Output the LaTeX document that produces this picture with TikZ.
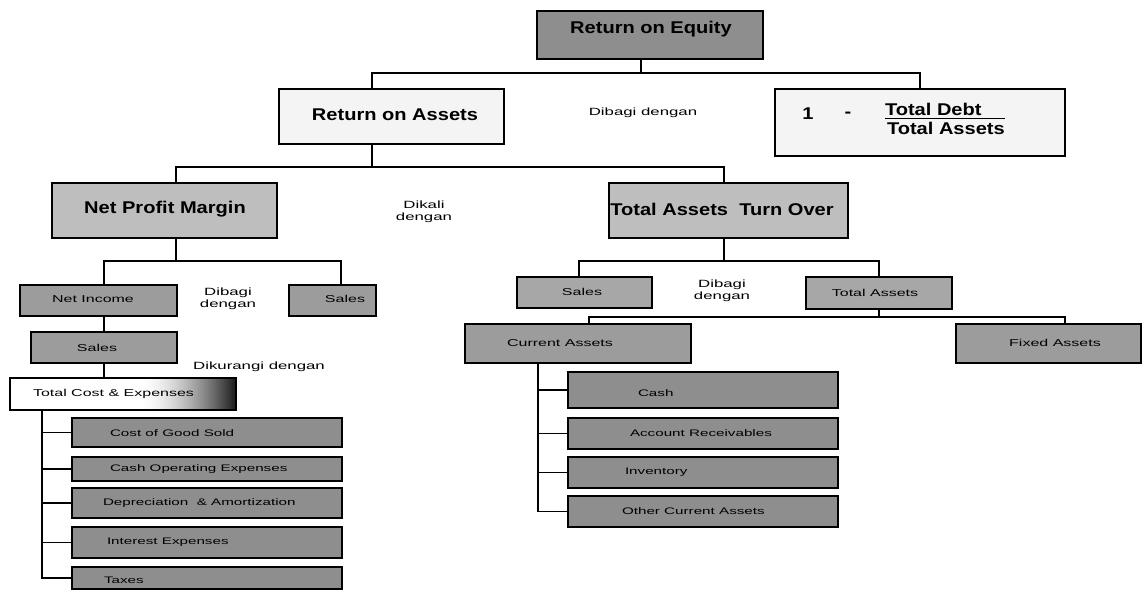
\documentclass[tikz,border=0pt]{standalone}
\usepackage{fontspec}
\setmainfont{Liberation Sans}
\usepackage{graphicx}
\newcommand\sx[1]{\scalebox{1.6}[1]{#1}}
\newcommand\bx[1]{\scalebox{1.18}[1]{#1}}
\newcommand\twol[2]{\sx{\begin{tabular}{@{}c@{}}#1\\[-1pt]#2\end{tabular}}}
\definecolor{roeC}{HTML}{8E8E8E}
\definecolor{paleC}{HTML}{F4F4F4}
\definecolor{midC}{HTML}{BEBEBE}
\definecolor{lvlA}{HTML}{9C9C9C}
\definecolor{lvlB}{HTML}{A7A7A7}
\definecolor{leafC}{HTML}{8E8E8E}
\tikzset{
  box/.style={draw, line width=1.5pt, inner sep=0pt, outer sep=0pt, anchor=center},
  conn/.style={line width=1.5pt},
  big/.style={inner sep=0pt, outer sep=0pt, font=\fontsize{17}{20}\selectfont\bfseries},
  lbl/.style={inner sep=0pt, outer sep=0pt, font=\fontsize{10}{12}\selectfont},
  leaflbl/.style={inner sep=0pt, outer sep=0pt, font=\fontsize{9.5}{11}\selectfont, anchor=west},
  note/.style={inner sep=0pt, outer sep=0pt, font=\fontsize{10.5}{12.5}\selectfont},
}
\begin{document}
\begin{tikzpicture}[x=1pt,y=-1pt]
\useasboundingbox (0,0) rectangle (1143,590);
% ---- boxes ----
\node[box, fill=roeC, minimum width=226pt, minimum height=48pt] (roe) at (650,35) {};
\node[box, fill=paleC, minimum width=225pt, minimum height=55pt] (roa) at (391.5,116.5) {};
\node[box, fill=paleC, minimum width=290pt, minimum height=67pt] (ratio) at (920,122.5) {};
\node[box, fill=midC, minimum width=225pt, minimum height=55pt] (npm) at (164.5,210.5) {};
\node[box, fill=midC, minimum width=239pt, minimum height=55pt] (tato) at (728.5,210.5) {};
\node[box, fill=lvlA, minimum width=157pt, minimum height=31pt] (ni) at (98.5,300.5) {};
\node[box, fill=lvlA, minimum width=87pt, minimum height=31pt] (salesL) at (332.5,300.5) {};
\node[box, fill=lvlA, minimum width=146pt, minimum height=31pt] (sales2) at (104,347.5) {};
\node[box, fill=white, minimum width=226pt, minimum height=32pt] (tce) at (123,394) {};
\foreach \i in {0,...,47} {
  \pgfmathsetmacro\t{88*(\i/47)^1.6}
  \fill[black!\t] (140+2*\i,378) rectangle (142.4+2*\i,410);
}
\draw[line width=1.5pt] (tce.north west) rectangle (tce.south east);
\node[box, fill=leafC, minimum width=270pt, minimum height=29pt] (c1) at (207,432.5) {};
\node[box, fill=leafC, minimum width=270pt, minimum height=24pt] (c2) at (207,469) {};
\node[box, fill=leafC, minimum width=270pt, minimum height=30pt] (c3) at (207,503) {};
\node[box, fill=leafC, minimum width=270pt, minimum height=31pt] (c4) at (207,542.5) {};
\node[box, fill=leafC, minimum width=270pt, minimum height=22pt] (c5) at (207,578) {};
\node[box, fill=lvlB, minimum width=135pt, minimum height=31pt] (salesR) at (584.5,292.5) {};
\node[box, fill=lvlB, minimum width=146pt, minimum height=32pt] (ta) at (879,293) {};
\node[box, fill=lvlA, minimum width=226pt, minimum height=39pt] (ca) at (578,343.5) {};
\node[box, fill=lvlA, minimum width=185pt, minimum height=39pt] (fa) at (1048.5,343.5) {};
\node[box, fill=leafC, minimum width=270pt, minimum height=36pt] (r1) at (703,390) {};
\node[box, fill=leafC, minimum width=270pt, minimum height=31pt] (r2) at (703,433.5) {};
\node[box, fill=leafC, minimum width=270pt, minimum height=31pt] (r3) at (703,472.5) {};
\node[box, fill=leafC, minimum width=270pt, minimum height=31pt] (r4) at (703,511.5) {};
% ---- texts ----
\node[big] (troe) at (651,29) {\bx{Return on Equity}};
\node[big] (troa) at (395,115) {\bx{Return on Assets}};
\node[big] (tnpm) at (165,209) {\bx{Net Profit Margin}};
\node[big] (ttato) at (722,209) {\bx{Total Assets~~Turn Over}};
\node[big] (tone) at (808,114) {\bx{1}};
\node[big] (tminus) at (848,115) {\bx{-}};
\node[big, anchor=west] (tdebt) at (885,109) {\bx{Total~Debt}};
\node[big, anchor=west] (tassets) at (887,128) {\bx{Total~Assets}};
\draw[line width=1.3pt] (tdebt.south west) ++(0,3) coordinate (fb) -- (fb -| tassets.east);
\node[note] (n1) at (643,113) {\sx{Dibagi dengan}};
\node[note] (n2) at (424,212) {\twol{Dikali}{dengan}};
\node[note] (n3) at (228,299) {\twol{Dibagi}{dengan}};
\node[note] (n4) at (722,291) {\twol{Dibagi}{dengan}};
\node[note] (n5) at (259,367) {\sx{Dikurangi dengan}};
\node[lbl] (tni) at (93,299) {\sx{Net Income}};
\node[lbl] (tsl) at (345,299) {\sx{Sales}};
\node[lbl] (ts2) at (97,348) {\sx{Sales}};
\node[lbl, anchor=west] (ttce) at (33,394) {\sx{Total Cost \& Expenses}};
\node[lbl] (tsr) at (582,292) {\sx{Sales}};
\node[lbl] (tta) at (875,293) {\sx{Total Assets}};
\node[lbl] (tca) at (560,343) {\sx{Current Assets}};
\node[lbl] (tfa) at (1055,343) {\sx{Fixed Assets}};
\node[leaflbl] (tc1) at (110,433) {\sx{Cost of Good Sold}};
\node[leaflbl] (tc2) at (110,469) {\sx{Cash Operating Expenses}};
\node[leaflbl] (tc3) at (103,503) {\sx{Depreciation~~\& Amortization}};
\node[leaflbl] (tc4) at (107,542) {\sx{Interest Expenses}};
\node[leaflbl] (tc5) at (104,580) {\sx{Taxes}};
\node[leaflbl] (tr1) at (638,393) {\sx{Cash}};
\node[leaflbl] (tr2) at (630,433) {\sx{Account Receivables}};
\node[leaflbl] (tr3) at (625,472) {\sx{Inventory}};
\node[leaflbl] (tr4) at (622,511) {\sx{Other Current Assets}};
% ---- connector helper coordinates ----
\coordinate (vroe) at (641,73);
\coordinate (xroa) at (372,0);
\coordinate (vroa) at (372,167);
\coordinate (x176) at (176,0);
\coordinate (x724) at (724,0);
\coordinate (vnpm) at (176,261);
\coordinate (x104) at (104,0);
\coordinate (x341) at (341,0);
\coordinate (x42) at (42,0);
\coordinate (vtato) at (724,261);
\coordinate (x579) at (579,0);
\coordinate (vta) at (879,317);
\coordinate (x589) at (589,0);
\coordinate (x1065) at (1065,0);
\coordinate (x538) at (538,0);
% ---- connectors ----
\draw[conn] (roe.south -| vroe) -- (vroe);
\draw[conn] (roa.north -| xroa) |- (vroe) -| (ratio.north);
\draw[conn] (roa.south -| vroa) -- (vroa);
\draw[conn] (npm.north -| x176) |- (vroa) -| (tato.north -| x724);
\draw[conn] (npm.south -| vnpm) -- (vnpm);
\draw[conn] (ni.north -| x104) |- (vnpm) -| (salesL.north -| x341);
\draw[conn] (ni.south -| x104) -- (sales2.north -| x104);
\draw[conn] (sales2.south -| x104) -- (tce.north -| x104);
\draw[conn] (tce.south -| x42) |- (c5.west);
\foreach \c in {c1,c2,c3,c4} \draw[conn] (\c.west -| x42) -- (\c.west);
\draw[conn] (tato.south -| vtato) -- (vtato);
\draw[conn] (salesR.north -| x579) |- (vtato) -| (ta.north);
\draw[conn] (ta.south) -- (vta);
\draw[conn] (ca.north -| x589) |- (vta) -| (fa.north -| x1065);
\draw[conn] (ca.south -| x538) |- (r4.west);
\foreach \r in {r1,r2,r3} \draw[conn] (\r.west -| x538) -- (\r.west);
\end{tikzpicture}
\end{document}
